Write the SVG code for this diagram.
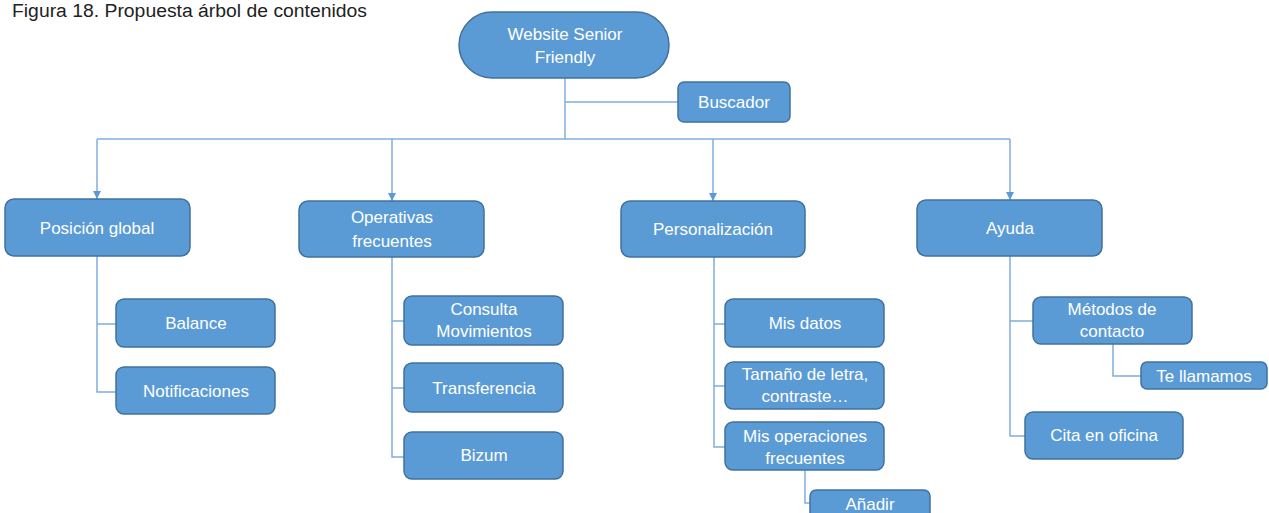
<svg xmlns="http://www.w3.org/2000/svg" width="1269" height="513" viewBox="0 0 1269 513">
<style>
.box{fill:#5B9BD5;stroke:#41719C;stroke-width:1.5}
.t{font-family:"Liberation Sans",Arial,sans-serif;font-size:17px;fill:#FFFFFF;text-anchor:middle}
.c{fill:none;stroke:#7FAEDD;stroke-width:1.5}
.title{font-family:"Liberation Sans",Arial,sans-serif;font-size:18px;fill:#222222}
</style>
<defs>
<marker id="arr" viewBox="0 0 10 10" refX="10" refY="5" markerWidth="8" markerHeight="8" markerUnits="userSpaceOnUse" orient="auto">
<path d="M0,0 L10,5 L0,10 z" fill="#5B9BD5"/>
</marker>
</defs>
<rect width="1269" height="513" fill="#FFFFFF"/>
<text class="title" x="12" y="17" textLength="355" lengthAdjust="spacingAndGlyphs">Figura 18. Propuesta árbol de contenidos</text>
<g id="connectors">
<path class="c" d="M565,78 V139"/>
<path class="c" d="M565,102 H678"/>
<path class="c" d="M97,139 H1010"/>
<path class="c" d="M97,139 V199" marker-end="url(#arr)"/>
<path class="c" d="M392,139 V201" marker-end="url(#arr)"/>
<path class="c" d="M713,139 V201" marker-end="url(#arr)"/>
<path class="c" d="M1010,139 V200" marker-end="url(#arr)"/>
<path class="c" d="M97,256 V392 H116 M97,324 H116"/>
<path class="c" d="M392,257 V457 H404 M392,321 H404 M392,388 H404"/>
<path class="c" d="M714,257 V447 H725 M714,324 H725 M714,386 H725"/>
<path class="c" d="M805,470 V503 H810"/>
<path class="c" d="M1010,256 V436 H1025 M1010,321 H1033"/>
<path class="c" d="M1113,344 V376 H1141"/>
</g>
<g id="root"><rect class="box" x="459" y="12" width="210" height="66" rx="33"/><text class="t" x="565" y="40">Website Senior</text><text class="t" x="565" y="63">Friendly</text></g>
<g id="buscador"><rect class="box" x="678" y="82" width="112" height="40" rx="6"/><text class="t" x="734" y="108">Buscador</text></g>
<g id="posicion"><rect class="box" x="5" y="199" width="185" height="57" rx="9"/><text class="t" x="97" y="234">Posición global</text></g>
<g id="operativas"><rect class="box" x="299" y="201" width="185" height="56" rx="9"/><text class="t" x="392" y="223">Operativas</text><text class="t" x="392" y="247">frecuentes</text></g>
<g id="personalizacion"><rect class="box" x="621" y="201" width="184" height="56" rx="9"/><text class="t" x="713" y="235">Personalización</text></g>
<g id="ayuda"><rect class="box" x="917" y="200" width="185" height="56" rx="9"/><text class="t" x="1010" y="234">Ayuda</text></g>
<g id="balance"><rect class="box" x="116" y="299" width="159" height="48" rx="8"/><text class="t" x="196" y="329">Balance</text></g>
<g id="notificaciones"><rect class="box" x="116" y="367" width="159" height="47" rx="8"/><text class="t" x="196" y="397">Notificaciones</text></g>
<g id="consulta"><rect class="box" x="404" y="296" width="159" height="49" rx="8"/><text class="t" x="484" y="315">Consulta</text><text class="t" x="484" y="337">Movimientos</text></g>
<g id="transferencia"><rect class="box" x="404" y="363" width="159" height="49" rx="8"/><text class="t" x="484" y="394">Transferencia</text></g>
<g id="bizum"><rect class="box" x="404" y="432" width="159" height="47" rx="8"/><text class="t" x="484" y="461">Bizum</text></g>
<g id="misdatos"><rect class="box" x="725" y="299" width="159" height="48" rx="8"/><text class="t" x="805" y="329">Mis datos</text></g>
<g id="tamano"><rect class="box" x="725" y="362" width="159" height="47" rx="8"/><text class="t" x="805" y="380">Tamaño de letra,</text><text class="t" x="805" y="402">contraste…</text></g>
<g id="misoperaciones"><rect class="box" x="725" y="422" width="159" height="48" rx="8"/><text class="t" x="805" y="442">Mis operaciones</text><text class="t" x="805" y="464">frecuentes</text></g>
<g id="anadir"><rect class="box" x="810" y="490" width="120" height="40" rx="6"/><text class="t" x="870" y="510">Añadir</text></g>
<g id="metodos"><rect class="box" x="1033" y="297" width="159" height="47" rx="8"/><text class="t" x="1112" y="315">Métodos de</text><text class="t" x="1112" y="337">contacto</text></g>
<g id="tellamamos"><rect class="box" x="1141" y="362" width="126" height="27" rx="6"/><text class="t" x="1204" y="382">Te llamamos</text></g>
<g id="cita"><rect class="box" x="1025" y="412" width="158" height="47" rx="8"/><text class="t" x="1104" y="441">Cita en oficina</text></g>
</svg>
